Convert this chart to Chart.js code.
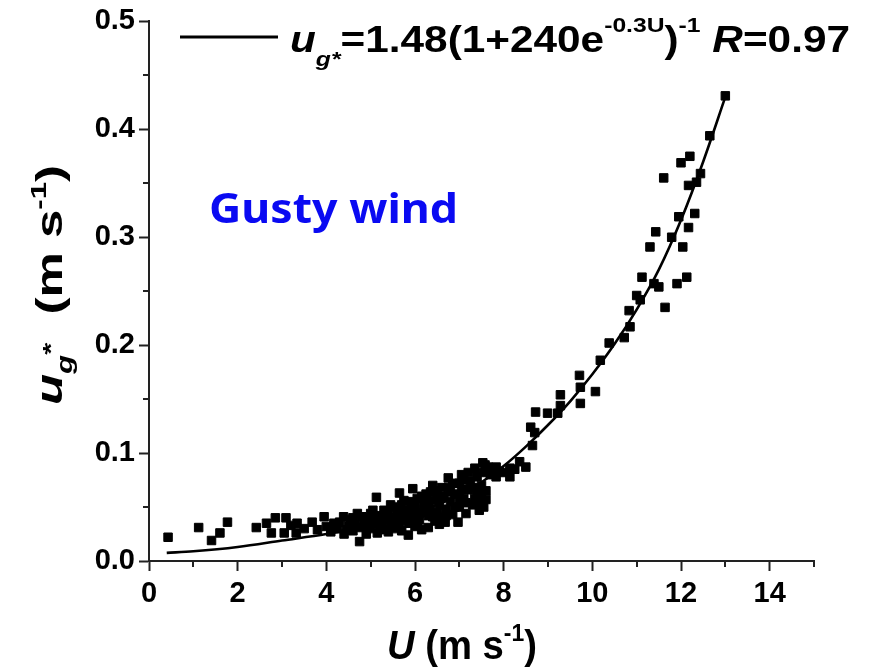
<!DOCTYPE html>
<html>
<head>
<meta charset="utf-8">
<script src="https://cdn.jsdelivr.net/npm/chart.js@4.4.1/dist/chart.umd.min.js"></script>
<style>
  html, body { margin: 0; padding: 0; background: #ffffff; }
  #wrap { width: 870px; height: 668px; }
</style>
</head>
<body>
<div id="wrap"><canvas id="windChart" width="870" height="668"></canvas></div>
<script>
// measured points: wind speed U (m/s) and u_g* (m/s)
const windSpeed = [
  0.43, 1.12, 1.41, 1.6, 1.77,
  2.42, 2.65, 2.76, 2.85, 3.05, 3.09, 3.2, 3.32, 3.34, 3.5, 3.68, 3.8, 3.95, 4.0, 4.1,
  4.17, 4.25, 4.39, 4.4, 4.5, 4.55, 4.6, 4.7, 4.75, 4.8, 4.85, 4.9, 4.95, 5.0, 5.05,
  5.1, 5.13, 5.15, 5.2, 5.25, 5.3, 5.35, 5.4, 5.45, 5.5, 5.5, 5.55, 5.6, 5.65, 5.65,
  5.7, 5.7, 5.75, 5.8, 5.85, 5.85, 5.9, 5.95, 5.95, 6.0, 6.0, 6.05, 6.1, 6.1, 6.15,
  6.2, 6.25, 6.3, 6.3, 6.35, 6.4, 6.4, 6.45, 6.5, 6.5, 6.55, 6.6, 6.65, 6.68, 6.7,
  6.75, 6.75, 6.8, 6.85, 6.9, 6.97, 7.0, 7.0, 7.05, 7.1, 7.15, 7.2, 7.25, 7.3, 7.35,
  7.4, 7.45, 7.47, 7.49, 7.5, 7.53, 7.55, 7.58, 7.6, 7.8, 7.83, 7.83, 8.14, 8.14, 8.36,
  8.5, 8.61, 8.65, 8.7, 8.72, 8.99, 9.22, 9.28, 9.28, 9.71, 9.73, 9.73, 10.07, 10.18, 10.38,
  10.72, 10.83, 10.85, 11.0, 11.08, 11.12, 11.3, 11.39, 11.43, 11.5, 11.61, 11.64, 11.79, 11.91, 11.95,
  12.0, 12.04, 12.13, 12.17, 12.17, 12.2, 12.31, 12.35, 12.44, 12.65, 13.0,
  4.3, 4.45, 4.6, 4.65, 4.8, 4.9, 5.0, 5.05, 5.15, 5.2, 5.3, 5.35, 5.4, 5.45, 5.55,
  5.6, 5.75, 5.8, 5.9, 6.0, 6.05, 6.15, 6.2, 6.3, 6.35, 6.4, 6.5, 6.55, 6.6, 6.7,
  6.8, 6.85, 6.9, 7.0, 7.05, 7.1, 7.15, 7.2, 7.3, 7.35, 7.4, 7.45, 7.5, 7.55, 7.6,
  7.65, 7.7, 7.9, 8.0, 8.25
];
const ugStar = [
  0.022, 0.031, 0.019, 0.026, 0.036,
  0.031, 0.035, 0.026, 0.040, 0.026, 0.040, 0.033, 0.026, 0.035, 0.030, 0.036, 0.029, 0.041, 0.032, 0.027,
  0.035, 0.030, 0.041, 0.025, 0.033, 0.038, 0.028, 0.044, 0.018, 0.031, 0.036, 0.025, 0.040, 0.030, 0.047,
  0.035, 0.059, 0.026, 0.042, 0.031, 0.038, 0.046, 0.027, 0.034, 0.050, 0.040, 0.030, 0.044, 0.036, 0.063,
  0.052, 0.028, 0.041, 0.047, 0.024, 0.035, 0.055, 0.040, 0.067, 0.032, 0.048, 0.058, 0.038, 0.044, 0.029,
  0.052, 0.062, 0.031, 0.042, 0.048, 0.056, 0.070, 0.037, 0.065, 0.045, 0.052, 0.040, 0.060, 0.036, 0.048,
  0.068, 0.077, 0.055, 0.043, 0.062, 0.036, 0.072, 0.050, 0.080, 0.058, 0.044, 0.066, 0.074, 0.052, 0.086,
  0.062, 0.047, 0.055, 0.059, 0.070, 0.091, 0.050, 0.089, 0.065, 0.081, 0.087, 0.078, 0.078, 0.086, 0.092,
  0.087, 0.124, 0.107, 0.119, 0.138, 0.137, 0.137, 0.154, 0.144, 0.172, 0.161, 0.146, 0.157, 0.186, 0.202,
  0.207, 0.232, 0.217, 0.246, 0.242, 0.263, 0.291, 0.257, 0.305, 0.254, 0.355, 0.235, 0.300, 0.257, 0.319,
  0.369, 0.291, 0.263, 0.309, 0.348, 0.375, 0.322, 0.351, 0.359, 0.394, 0.431,
  0.036, 0.029, 0.040, 0.034, 0.041, 0.033, 0.044, 0.037, 0.040, 0.033, 0.047, 0.029, 0.043, 0.052, 0.036,
  0.048, 0.056, 0.038, 0.046, 0.053, 0.035, 0.060, 0.045, 0.055, 0.064, 0.041, 0.058, 0.034, 0.068, 0.042,
  0.064, 0.072, 0.050, 0.058, 0.066, 0.075, 0.054, 0.082, 0.068, 0.058, 0.078, 0.066, 0.062, 0.082, 0.057,
  0.087, 0.080, 0.083, 0.082, 0.085
];

// fitted curve
const fitU = [0.4, 1, 2, 3, 4, 5, 6, 6.5, 7, 7.5, 8, 8.5, 9, 9.5, 10, 10.5, 11, 11.5, 12, 12.5, 13];
const fitUg = [0.0075, 0.009, 0.013, 0.019, 0.025, 0.033, 0.045, 0.052, 0.061, 0.073, 0.088, 0.106, 0.126, 0.148, 0.173, 0.201, 0.233, 0.270, 0.316, 0.370, 0.43];

const xTickValues = [0, 2, 4, 6, 8, 10, 12, 14];
const yTickValues = [0, 0.1, 0.2, 0.3, 0.4, 0.5];
const xMinorValues = [1, 3, 5, 7, 9, 11, 13, 15];
const yMinorValues = [0.05, 0.15, 0.25, 0.35, 0.45];

const AXIS = '#222222';
const SANS = "'Liberation Sans', Arial, sans-serif";

// draws a row of text pieces (for sub/superscripts), squeezed to a given width
function drawRuns(ctx, runs, x, y, targetW) {
    let total = 0;
    runs.forEach(r => { ctx.font = r.font; r.w = ctx.measureText(r.t).width; total += r.w; });
    const sx = targetW ? targetW / total : 1;
    ctx.save();
    ctx.translate(x, y);
    ctx.scale(sx, 1);
    ctx.textBaseline = 'alphabetic';
    ctx.textAlign = 'left';
    let cx = 0;
    runs.forEach(r => {
        ctx.font = r.font;
        ctx.fillStyle = r.color || '#000';
        ctx.fillText(r.t, cx, r.dy || 0);
        cx += r.w;
    });
    ctx.restore();
}

const decorPlugin = {
    id: 'decor',
    afterDraw(chart) {
        const ctx = chart.ctx;
        const xs = chart.scales.x, ys = chart.scales.y;
        const left = chart.chartArea.left, bottom = chart.chartArea.bottom;

        // minor ticks
        ctx.save();
        ctx.strokeStyle = AXIS;
        ctx.lineWidth = 2;
        yMinorValues.forEach(v => {
            const py = Math.round(ys.getPixelForValue(v));
            ctx.beginPath(); ctx.moveTo(left - 6, py); ctx.lineTo(left, py); ctx.stroke();
        });
        xMinorValues.forEach(v => {
            const px = Math.round(xs.getPixelForValue(v));
            ctx.beginPath(); ctx.moveTo(px, bottom); ctx.lineTo(px, bottom + 6); ctx.stroke();
        });
        ctx.restore();

        // legend line + formula
        ctx.save();
        ctx.strokeStyle = '#000';
        ctx.lineWidth = 3;
        ctx.beginPath(); ctx.moveTo(180, 37); ctx.lineTo(278, 37); ctx.stroke();
        ctx.restore();
        const B = 'bold 36px ' + SANS, BI = 'italic bold 36px ' + SANS;
        const S = 'bold 21px ' + SANS, SI = 'italic bold 21px ' + SANS;
        drawRuns(ctx, [
            { t: 'u', font: BI },
            { t: 'g*', font: SI, dy: 14 },
            { t: '=1.48(1+240e', font: B },
            { t: '-0.3U', font: S, dy: -20 },
            { t: ')', font: B },
            { t: '-1', font: S, dy: -20 },
            { t: ' ', font: B },
            { t: 'R', font: BI },
            { t: '=0.97', font: B }
        ], 290, 52, 560);

        // Gusty wind
        drawRuns(ctx, [
            { t: 'Gusty wind', font: "bold 42px 'Noto Sans', 'Open Sans', sans-serif", color: '#0a0af2' }
        ], 209, 223, 249);

        // y title
        ctx.save();
        ctx.translate(62, 405);
        ctx.rotate(-Math.PI / 2);
        const T = 'bold 36px ' + SANS, TI = 'italic bold 36px ' + SANS;
        const TS = 'bold 22px ' + SANS, TSI = 'italic bold 22px ' + SANS;
        drawRuns(ctx, [
            { t: 'u', font: TI },
            { t: 'g', font: TSI, dy: 10 },
            { t: '*', font: TS, dy: -4 },
            { t: '  (m s', font: T },
            { t: '-1', font: TS, dy: -16 },
            { t: ')', font: T }
        ], 0, 0, 240);
        ctx.restore();

        // x title
        drawRuns(ctx, [
            { t: 'U', font: 'italic bold 40px ' + SANS },
            { t: ' (m s', font: 'bold 40px ' + SANS },
            { t: '-1', font: 'bold 24px ' + SANS, dy: -18 },
            { t: ')', font: 'bold 40px ' + SANS }
        ], 387, 659, 150);
    }
};

new Chart(document.getElementById('windChart'), {
    type: 'scatter',
    data: {
        datasets: [
            {
                label: 'fit',
                data: fitU.map((u, i) => ({ x: u, y: fitUg[i] })),
                showLine: true,
                borderColor: '#000',
                borderWidth: 2.6,
                pointRadius: 0,
                cubicInterpolationMode: 'monotone',
                order: 0
            },
            {
                label: 'Gusty wind',
                data: windSpeed.map((u, i) => ({ x: u, y: ugStar[i] })),
                pointStyle: 'rect',
                pointRadius: 6,
                pointBorderWidth: 1,
                backgroundColor: '#000',
                borderColor: '#000',
                order: 1
            }
        ]
    },
    options: {
        responsive: false,
        animation: false,
        events: [],
        layout: { padding: { top: 21, right: 56, bottom: 0, left: 0 } },
        plugins: { legend: { display: false }, tooltip: { enabled: false } },
        scales: {
            x: {
                type: 'linear', min: 0, max: 15,
                afterBuildTicks: s => { s.ticks = xTickValues.map(v => ({ value: v })); },
                afterFit: s => { s.height = 107; },
                grid: { drawOnChartArea: false, tickLength: 10, tickWidth: 2, tickColor: AXIS },
                border: { display: true, color: AXIS, width: 2 },
                ticks: { color: '#000', padding: 6, font: { family: SANS, size: 29, weight: 'bold' }, callback: v => String(v) }
            },
            y: {
                type: 'linear', min: 0, max: 0.5,
                afterBuildTicks: s => { s.ticks = yTickValues.map(v => ({ value: v })); },
                afterFit: s => { s.width = 149; },
                grid: { drawOnChartArea: false, tickLength: 10, tickWidth: 2, tickColor: AXIS },
                border: { display: true, color: AXIS, width: 2 },
                ticks: { color: '#000', padding: 4, font: { family: SANS, size: 29, weight: 'bold' }, callback: v => v.toFixed(1) }
            }
        }
    },
    plugins: [decorPlugin]
});
</script>
</body>
</html>
